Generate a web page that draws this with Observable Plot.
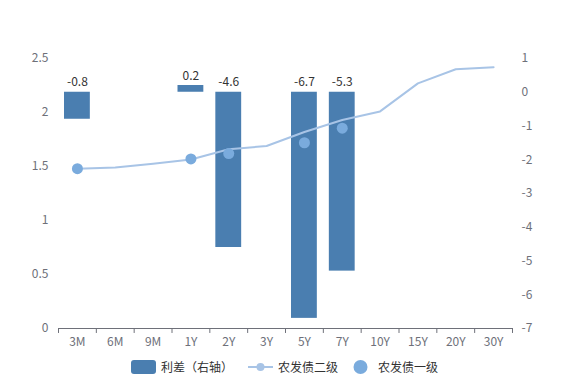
<!DOCTYPE html>
<html><head><meta charset="utf-8">
<script src="https://cdn.jsdelivr.net/npm/d3@7"></script>
<script src="https://cdn.jsdelivr.net/npm/@observablehq/plot@0.6"></script>
<style>
body{margin:0;background:#fff;font-family:"Noto Sans CJK SC","Noto Sans",sans-serif;}
#wrap{width:569px;height:380px;position:relative;}
#legend{position:absolute;left:0;top:358px;width:569px;display:flex;justify-content:center;align-items:center;font-size:12px;color:#333;}
#legend .it{display:flex;align-items:center;margin:0 5px;}
</style></head><body>
<div id="wrap"><div id="chart"></div><div id="legend"></div></div>
<script>
const categories = ["3M","6M","9M","1Y","2Y","3Y","5Y","7Y","10Y","15Y","20Y","30Y"];
const tier2 = [1.48,1.49,1.525,1.565,1.66,1.69,1.82,1.93,2.01,2.27,2.40,2.42];
const tier1 = [1.48,null,null,1.57,1.62,null,1.72,1.855,null,null,null,null];
const spread = [-0.8,null,null,0.2,-4.6,null,-6.7,-5.3,null,null,null,null];
const leftTicks = [0,0.5,1,1.5,2,2.5];
const rightTicks = [-7,-6,-5,-4,-3,-2,-1,0,1];
const seriesNames = ["利差（右轴）","农发债二级","农发债一级"];

const barColor = "#4a7eb0", lineColor = "#a8c4e6", dotColor = "#7aabdd", axisColor = "#6e7079";
const conv = r => (r + 7) * 2.5 / 8;

const rows = categories.map((c,i)=>({c, t2:tier2[i], t1:tier1[i], s:spread[i]}));
const bars = rows.filter(d=>d.s!=null);
const dots = rows.filter(d=>d.t1!=null);
const W = 569, mL = 58, mR = 57;
const bw = (W - mL - mR) / categories.length;

const chart = Plot.plot({
  width: W, height: 350,
  marginTop: 58, marginBottom: 22, marginLeft: mL, marginRight: mR,
  style:{fontFamily:'"Noto Sans CJK SC","Noto Sans",sans-serif', fontSize:"12px"},
  x:{type:"band", domain:categories, padding:0, round:false},
  y:{domain:[0,2.5]},
  marks:[
    Plot.axisY({ticks:leftTicks, tickFormat:d=>String(d), tickSize:0, tickPadding:10, label:null, color:axisColor, fontSize:12}),
    Plot.axisY({anchor:"right", ticks:rightTicks.map(conv), tickFormat:v=>String(Math.round(v*8/2.5-7)), tickSize:0, tickPadding:9, label:null, color:axisColor, fontSize:12}),
    Plot.axisX({tickSize:0, tickPadding:9, label:null, color:axisColor, fontSize:12}),
    Plot.ruleY([0], {stroke:axisColor, strokeOpacity:1}),
    Plot.ruleX(categories, {x:d=>d, y1:0, y2:-0.046, dx:-bw/2, stroke:axisColor}),
    Plot.ruleX([categories[categories.length-1]], {x:d=>d, y1:0, y2:-0.046, dx:bw/2, stroke:axisColor}),
    Plot.barY(bars, {x:"c", y1:()=>conv(0), y2:d=>conv(d.s), fill:barColor, insetLeft:6, insetRight:6}),
    Plot.text(bars, {x:"c", y:d=>conv(Math.max(0,d.s)), text:d=>String(d.s), lineAnchor:"bottom", dy:-6, fill:"#333", fontSize:12}),
    Plot.line(rows, {x:"c", y:"t2", stroke:lineColor, strokeWidth:2, curve:"linear"}),
    Plot.dot(dots, {x:"c", y:"t1", r:5.5, fill:dotColor, stroke:"none"})
  ]
});
document.getElementById("chart").appendChild(chart);

const lg = document.getElementById("legend");
lg.innerHTML = `
<div class="it"><svg width="25" height="14" style="margin-right:5px"><rect width="25" height="14" rx="3" fill="${barColor}"/></svg><span>${seriesNames[0]}</span></div>
<div class="it" style="margin-left:10px"><svg width="25" height="14" style="margin-right:5px"><line x1="0" x2="25" y1="7" y2="7" stroke="${lineColor}" stroke-width="2"/><circle cx="12.5" cy="7" r="4" fill="${lineColor}"/></svg><span>${seriesNames[1]}</span></div>
<div class="it" style="margin-left:5px"><svg width="25" height="14" style="margin-right:5px"><circle cx="12.5" cy="7" r="7" fill="${dotColor}"/></svg><span>${seriesNames[2]}</span></div>`;
</script></body></html>
